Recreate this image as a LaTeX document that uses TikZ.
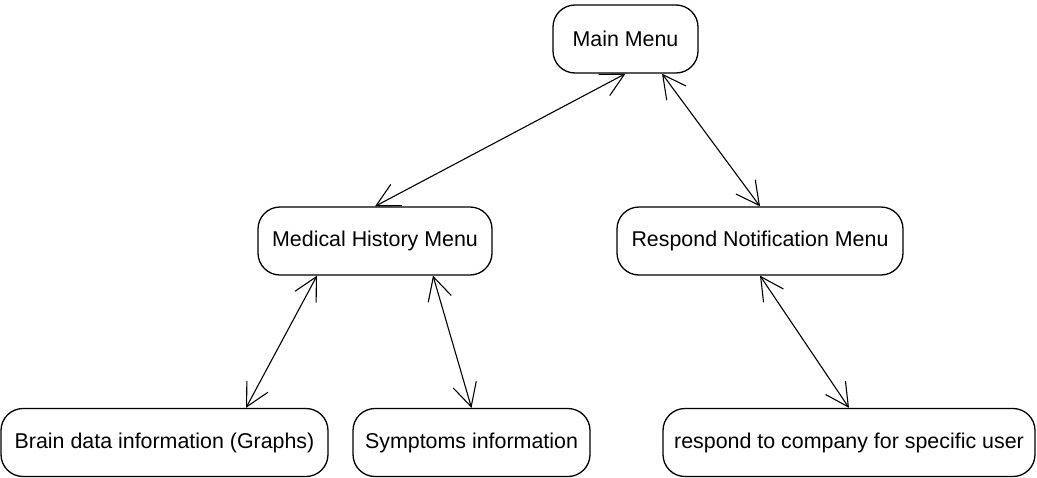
\documentclass[tikz,border=0pt]{standalone}
\usepackage{fontspec}
\setmainfont{Liberation Sans}
\usetikzlibrary{arrows.meta}

\tikzset{
  menu/.style={draw, line width=1.3pt, rounded corners=22pt, minimum height=68pt,
    inner sep=0pt, font=\fontsize{21.4}{25}\selectfont},
  link/.style={line width=1.1pt,
    {Straight Barb[length=23pt,width=24pt]}-{Straight Barb[length=23pt,width=24pt]}}
}

\begin{document}
\begin{tikzpicture}[x=1pt, y=-1pt, line cap=round, line join=round]

    \useasboundingbox (0,0) rectangle (1037,477);

    % menus
    \node[menu, minimum width=145pt] (main) at (625.5,39) {Main Menu};
    \node[menu, minimum width=234pt] (medical) at (375,241) {Medical History Menu};
    \node[menu, minimum width=286pt] (respond) at (760,241) {Respond Notification Menu};

    \node[menu, minimum width=327pt] (brain) at (164.5,442.5) {Brain data information (Graphs)};
    \node[menu, minimum width=237pt] (symptoms) at (471.5,442.5) {Symptoms information};
    \node[menu, minimum width=372pt] (company) at (849,442.5) {respond to company for specific user};

    % links
    \draw[link] (main.south) -- (medical.north);
    \draw[link] ([xshift=36.5pt]main.south) -- (respond.north);
    \draw[link] ([xshift=-58pt]medical.south) -- ([xshift=81.5pt]brain.north);
    \draw[link] ([xshift=58pt]medical.south) -- (symptoms.north);
    \draw[link] (respond.south) -- (company.north);

\end{tikzpicture}
\end{document}
